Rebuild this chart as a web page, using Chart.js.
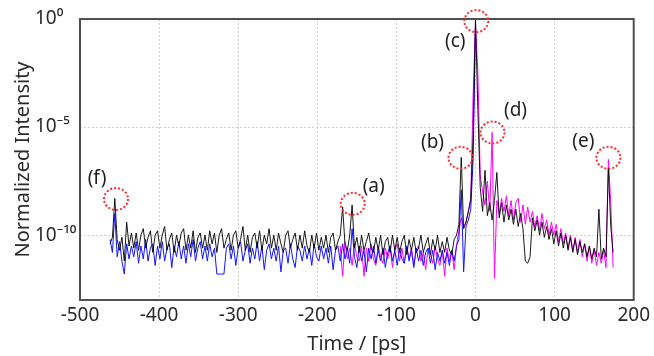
<!DOCTYPE html>
<html>
<head>
<meta charset="utf-8">
<script src="https://cdn.jsdelivr.net/npm/chart.js@4.4.1/dist/chart.umd.min.js"></script>
<style>
  html, body { margin: 0; padding: 0; background: #fff; }
</style>
</head>
<body>
<canvas id="traceChart" width="654" height="356"></canvas>
<script>
// Sampling of the traces, in ps
var timeStep = 3;
var blackStart = -462;
var blueStart = -462;
var magentaStart = -171;

// log10 of normalized intensity
var blackLog = [
  -10.4, -10.1, -8.3, -10.2, -10.7, -10.1, -11.2, -9.4, -10.5, -9.9,
  -10.6, -9.9, -10.7, -10.0, -9.7, -10.6, -10.1, -9.8, -10.8, -10.0,
  -9.8, -10.6, -10.0, -9.6, -10.7, -10.2, -9.9, -10.8, -10.0, -10.5,
  -9.9, -9.7, -10.7, -10.0, -10.6, -9.8, -10.8, -10.1, -9.9, -10.6,
  -10.0, -10.7, -9.8, -10.4, -9.9, -10.8, -10.0, -9.7, -10.6, -10.2,
  -9.9, -10.7, -10.0, -9.8, -10.6, -10.2, -9.6, -10.7, -10.0, -10.8,
  -10.1, -9.9, -10.6, -9.8, -10.7, -10.0, -10.4, -9.7, -10.6, -10.0,
  -10.7, -9.9, -10.4, -10.8, -10.0, -9.8, -10.6, -10.2, -9.9, -10.7,
  -10.0, -10.6, -9.8, -10.5, -10.8, -10.0, -10.6, -9.9, -10.7, -10.1,
  -10.6, -10.0, -10.8, -10.1, -9.9, -10.7, -10.3, -10.0, -8.7, -10.4,
  -10.7, -10.0, -8.6, -10.6, -10.1, -10.8, -10.0, -10.7, -10.3, -9.9,
  -10.6, -10.8, -10.1, -10.7, -10.0, -10.9, -10.3, -10.1, -10.8, -10.0,
  -10.7, -10.1, -10.8, -10.3, -10.0, -10.9, -10.2, -10.7, -10.1, -10.8,
  -10.6, -10.0, -10.8, -10.4, -10.1, -10.9, -10.2, -10.7, -10.0, -10.8,
  -10.3, -10.8, -10.1, -10.7, -10.9, -10.2, -10.0, -9.5, -6.4, -9.7,
  -9.4, -8.9, -8.3, -5.5, 0.0, -4.2, -7.8, -8.9, -7.0, -9.1,
  -8.5, -9.3, -8.4, -7.1, -9.2, -8.5, -9.4, -8.6, -9.3, -8.8,
  -9.5, -8.8, -9.6, -9.0, -9.7, -11.2, -11.3, -11.0, -9.2, -9.8,
  -9.3, -10.0, -9.4, -10.1, -9.6, -10.2, -9.7, -10.4, -9.8, -10.5,
  -9.9, -10.6, -10.0, -10.7, -10.1, -10.8, -10.2, -10.9, -10.3, -10.8,
  -10.4, -11.0, -10.5, -11.1, -10.6, -11.0, -8.8, -11.1, -10.6, -11.0,
  -6.9, -9.6, -10.8
];

var blueLog = [
  -10.2, -10.8, -9.0, -11.0, -10.3, -11.2, -11.8, -10.4, -11.1, -10.5,
  -11.0, -10.3, -11.3, -10.5, -11.1, -10.2, -11.2, -10.6, -10.4, -11.4,
  -10.5, -11.1, -10.3, -11.2, -10.6, -10.4, -11.5, -10.5, -11.0, -10.3,
  -11.1, -10.5, -11.3, -10.4, -11.0, -10.2, -11.2, -10.6, -10.3, -11.1,
  -10.5, -11.2, -10.4, -11.0, -10.6, -11.8, -11.8, -11.8, -11.8, -10.6,
  -10.4, -11.1, -10.5, -11.4, -10.6, -10.3, -11.2, -10.7, -10.4, -11.3,
  -10.6, -11.1, -10.3, -11.2, -10.5, -11.6, -10.7, -10.4, -11.1, -10.6,
  -11.2, -10.5, -11.7, -10.7, -10.6, -11.3, -10.4, -11.1, -11.5, -10.5,
  -10.7, -11.2, -10.5, -11.1, -10.6, -11.4, -10.4, -11.0, -11.2, -10.5,
  -11.1, -10.6, -11.3, -10.5, -11.6, -10.7, -10.5, -11.2, -10.4, -11.1,
  -10.6, -11.3, -9.7, -11.0, -11.5, -10.5, -11.2, -10.7, -11.7, -10.6,
  -11.1, -10.5, -11.3, -10.7, -11.2, -10.6, -11.5, -10.8, -10.5, -11.2,
  -10.7, -11.4, -10.6, -11.1, -11.3, -10.5, -11.2, -10.7, -11.5, -10.6,
  -11.2, -10.7, -11.4, -10.8, -10.6, -11.3, -10.7, -11.6, -10.8, -11.2,
  -10.7, -11.3, -10.8, -11.4, -10.7, -11.2, -10.5, -10.2, -7.9, -11.7,
  -9.6, -9.3, -8.8, -6.5, -0.3
];

var magentaLog = [
  -10.5, -11.9, -10.3, -11.1, -10.6, -11.4, -10.4, -11.0, -11.2, -10.5,
  -11.9, -10.6, -11.2, -10.4, -11.1, -11.4, -10.5, -11.0, -11.3, -10.6,
  -11.1, -10.5, -11.5, -10.7, -10.4, -11.2, -10.6, -11.3, -10.5, -11.1,
  -10.6, -11.4, -10.7, -10.5, -11.2, -10.8, -11.6, -10.6, -10.9, -11.3,
  -10.5, -11.1, -11.4, -10.7, -11.9, -10.6, -11.2, -10.7, -11.6, -10.5,
  -9.8, -9.2, -9.6, -9.4, -8.9, -8.4, -3.5, -0.2, -2.5, -7.2,
  -8.0, -8.6, -7.5, -8.9, -5.25, -12.0, -8.4, -9.0, -8.3, -8.9,
  -8.2, -9.1, -8.4, -9.3, -8.5, -8.3, -9.4, -8.6, -9.5, -8.7,
  -9.4, -8.9, -9.6, -9.1, -9.8, -9.0, -9.7, -9.3, -10.0, -9.4,
  -10.0, -9.5, -10.3, -9.7, -10.4, -9.9, -10.6, -10.0, -10.7, -10.1,
  -10.8, -10.2, -11.0, -10.4, -11.2, -10.5, -11.3, -10.7, -11.4, -10.8,
  -11.3, -10.7, -11.5, -6.5, -8.5, -11.5
];

// Axes
var xMin = -500;
var xMax = 200;
var xStep = 100;
var yMin = 1e-13;
var yMax = 1;
var yTickValues = [1e-10, 1e-5, 1];
var yTickLabels = ["10\u207B\u00B9\u2070", "10\u207B\u2075", "10\u2070"];

// Marked peaks
var markNames = ["(f)", "(a)", "(b)", "(c)", "(d)", "(e)"];
var markTimes = [-454.5, -155.3, -19, 1, 21.5, 168];
var markLevels = [4.7e-9, 2.8e-9, 3.8e-7, 0.8, 5.6e-6, 3.8e-7];

function toPoints(start, logs) {
  return logs.map(function (v, i) {
    return { x: start + i * timeStep, y: Math.pow(10, v) };
  });
}

var fontName = '"Noto Sans", "DejaVu Sans", sans-serif';

// Frame, dotted circles and their letters
var marksPlugin = {
  id: 'marks',
  afterDatasetsDraw: function (chart, args, opts) {
    var ctx = chart.ctx;
    var a = chart.chartArea;
    var xs = chart.scales.x;
    var ys = chart.scales.y;
    ctx.save();
    ctx.strokeStyle = '#505050';
    ctx.lineWidth = 2;
    ctx.strokeRect(a.left, a.top, a.right - a.left, a.bottom - a.top);

    ctx.strokeStyle = '#ff2b2b';
    ctx.lineWidth = 2;
    ctx.setLineDash([2, 2]);
    for (var i = 0; i < markNames.length; i++) {
      var cx = xs.getPixelForValue(markTimes[i]);
      var cy = ys.getPixelForValue(markLevels[i]);
      ctx.beginPath();
      ctx.ellipse(cx, cy, 12, 11, 0, 0, Math.PI * 2);
      ctx.stroke();
    }
    ctx.setLineDash([]);
    ctx.fillStyle = '#1e1e1e';
    ctx.font = '19px ' + fontName;
    ctx.textAlign = 'center';
    ctx.textBaseline = 'middle';
    for (var j = 0; j < markNames.length; j++) {
      var px = xs.getPixelForValue(markTimes[j]) + opts.offsets[j][0];
      var py = ys.getPixelForValue(markLevels[j]) + opts.offsets[j][1];
      ctx.fillText(markNames[j], px, py);
    }
    ctx.restore();
  }
};

var chart = new Chart(document.getElementById('traceChart').getContext('2d'), {
  type: 'line',
  data: {
    datasets: [{
      data: toPoints(blackStart, blackLog),
      borderColor: 'rgba(0, 0, 0, 0.9)',
      borderWidth: 1,
      order: 0
    }, {
      data: toPoints(blueStart, blueLog),
      borderColor: '#1414ff',
      borderWidth: 1,
      order: 1
    }, {
      data: toPoints(magentaStart, magentaLog),
      borderColor: '#ff00ff',
      borderWidth: 1,
      order: 2
    }]
  },
  options: {
    responsive: false,
    animation: false,
    parsing: false,
    elements: {
      point: { radius: 0 },
      line: { tension: 0 }
    },
    layout: { padding: { left: 35, top: 19, right: 19, bottom: 0 } },
    plugins: {
      legend: { display: false },
      tooltip: { enabled: false },
      marks: {
        offsets: [[-19, -20], [21, -17], [-28, -15], [-21, 20], [23, -22], [-25, -16]]
      }
    },
    scales: {
      x: {
        type: 'linear',
        min: xMin,
        max: xMax,
        ticks: {
          stepSize: xStep,
          color: '#2a2a2a',
          padding: 4,
          font: { family: fontName, size: 19 }
        },
        grid: { color: '#d0d0d0', drawTicks: false },
        border: { display: false, dash: [2, 2] },
        title: {
          display: true,
          text: 'Time / [ps]',
          color: '#2a2a2a',
          padding: { top: 0, bottom: 0 },
          font: { family: fontName, size: 20 }
        },
        afterFit: function (scale) { scale.height = 56; }
      },
      y: {
        type: 'logarithmic',
        min: yMin,
        max: yMax,
        afterBuildTicks: function (scale) {
          scale.ticks = yTickValues.map(function (v) { return { value: v }; });
        },
        ticks: {
          crossAlign: 'far',
          color: '#2a2a2a',
          padding: 0,
          font: { family: fontName, size: 19 },
          callback: function (value) {
            var k = yTickValues.indexOf(value);
            return k >= 0 ? yTickLabels[k] : '';
          }
        },
        grid: { color: '#d0d0d0', drawTicks: false },
        border: { display: false, dash: [2, 2] },
        title: {
          display: true,
          text: 'Normalized Intensity',
          color: '#2a2a2a',
          padding: { top: -24, bottom: 0 },
          font: { family: fontName, size: 20 }
        },
        afterFit: function (scale) { scale.width = 45; }
      }
    }
  },
  plugins: [marksPlugin]
});
</script>
</body>
</html>
